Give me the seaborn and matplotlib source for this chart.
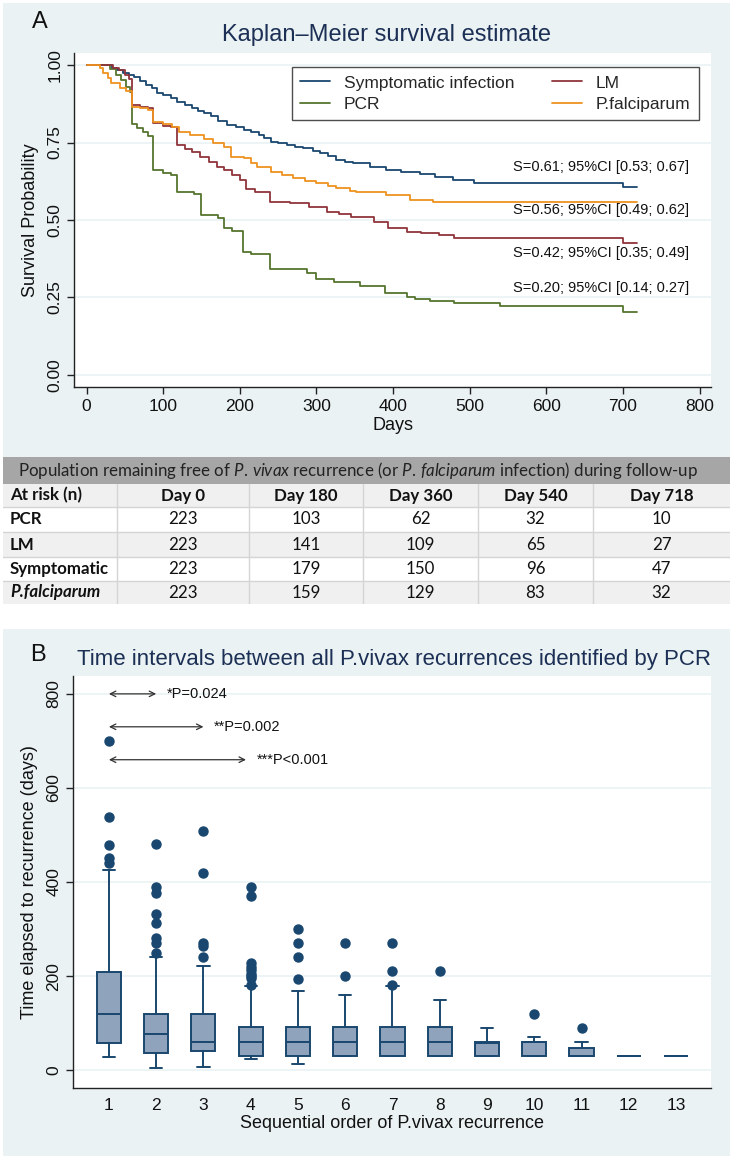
import numpy as np
import pandas as pd
import matplotlib
matplotlib.use('Agg')
import matplotlib.pyplot as plt
from matplotlib.patches import Rectangle
from matplotlib.lines import Line2D
import seaborn as sns

# ---- Panel A: Kaplan-Meier step curves (day, survival)
sympt_days = [0, 33, 40, 48, 55, 62, 70, 78, 85, 92, 100, 110, 118, 128, 138, 145, 153, 162, 172, 183,
              195, 205, 214, 225, 232, 240, 250, 261, 272, 283, 295, 305, 315, 326, 337, 348, 370, 391,
              410, 435, 455, 478, 506, 700, 719]
sympt_surv = [1.0, 0.99, 0.984, 0.976, 0.968, 0.96, 0.948, 0.935, 0.925, 0.909, 0.905, 0.895, 0.882, 0.872,
              0.862, 0.852, 0.844, 0.835, 0.82, 0.806, 0.8, 0.79, 0.785, 0.775, 0.765, 0.753, 0.748, 0.742,
              0.737, 0.731, 0.722, 0.715, 0.705, 0.694, 0.688, 0.683, 0.672, 0.661, 0.655, 0.65, 0.64, 0.629,
              0.62, 0.607, 0.607]

pcr_days = [0, 30, 38, 45, 52, 57, 59, 66, 74, 80, 87, 100, 110, 118, 140, 149, 172, 179, 190, 204, 215,
            239, 288, 300, 323, 357, 389, 418, 428, 448, 479, 539, 700, 719]
pcr_surv = [1.0, 0.987, 0.969, 0.951, 0.928, 0.914, 0.81, 0.798, 0.785, 0.771, 0.66, 0.652, 0.645, 0.591,
            0.583, 0.516, 0.507, 0.475, 0.466, 0.398, 0.39, 0.343, 0.33, 0.31, 0.30, 0.287, 0.263, 0.253,
            0.245, 0.239, 0.233, 0.224, 0.204, 0.204]

lm_days = [0, 35, 42, 50, 55, 59, 70, 80, 87, 100, 110, 118, 128, 138, 148, 160, 170, 179, 190, 200, 208,
           220, 239, 265, 290, 314, 330, 345, 375, 393, 418, 436, 460, 479, 700, 719]
lm_surv = [1.0, 0.99, 0.984, 0.968, 0.955, 0.871, 0.866, 0.86, 0.812, 0.805, 0.8, 0.742, 0.73, 0.718, 0.704,
           0.686, 0.672, 0.661, 0.645, 0.629, 0.6, 0.59, 0.557, 0.554, 0.543, 0.527, 0.52, 0.511, 0.495,
           0.473, 0.462, 0.457, 0.452, 0.441, 0.427, 0.427]

pf_days = [0, 18, 22, 28, 32, 44, 52, 59, 70, 80, 87, 100, 112, 120, 135, 153, 165, 179, 188, 205, 215,
           222, 240, 255, 270, 285, 300, 315, 326, 344, 352, 391, 422, 452, 719]
pf_surv = [1.0, 0.99, 0.975, 0.958, 0.941, 0.925, 0.915, 0.866, 0.86, 0.855, 0.817, 0.81, 0.801, 0.785,
           0.775, 0.763, 0.75, 0.737, 0.704, 0.699, 0.685, 0.672, 0.656, 0.645, 0.634, 0.626, 0.618, 0.61,
           0.604, 0.595, 0.591, 0.581, 0.565, 0.557, 0.557]

group_names = ['Symptomatic infection', 'PCR', 'LM', 'P.falciparum']
group_colors = ['#1a476f', '#55752f', '#90353b', '#ee9220']

end_labels = ['S=0.61; 95%CI [0.53; 0.67]', 'S=0.56; 95%CI [0.49; 0.62]',
              'S=0.42; 95%CI [0.35; 0.49]', 'S=0.20; 95%CI [0.14; 0.27]']
end_label_y = [0.672, 0.532, 0.395, 0.28]

# ---- At-risk table
risk_header = ('Population remaining free of $\\it{P.\\,vivax}$ recurrence (or $\\it{P.\\,falciparum}$ '
               'infection) during follow-up')
risk_cols = ['At risk (n)', 'Day 0', 'Day 180', 'Day 360', 'Day 540', 'Day 718']
risk_rows = ['PCR', 'LM', 'Symptomatic', 'P.falciparum']
risk_pcr = [223, 103, 62, 32, 10]
risk_lm = [223, 141, 109, 65, 27]
risk_sympt = [223, 179, 150, 96, 47]
risk_pf = [223, 159, 129, 83, 32]

# ---- Panel B: box plot summaries per recurrence order
order_labels = [str(i) for i in range(1, 14)]
box_q1 = [58, 37, 40, 30, 30, 30, 30, 30, 30, 30, 30, 30, 30]
box_med = [120, 76, 60, 60, 60, 60, 60, 60, 57, 60, 30, 30, 30]
box_q3 = [208, 120, 120, 91, 91, 91, 91, 91, 60, 60, 46, 30, 30]
box_lo = [28, 4, 6, 24, 12, 30, 30, 30, 30, 30, 30, 30, 30]
box_hi = [425, 240, 222, 179, 169, 160, 179, 150, 90, 71, 60, 30, 30]
box_fliers = [[440, 450, 478, 538, 700],
              [248, 270, 280, 312, 331, 376, 390, 480],
              [240, 264, 270, 419, 509],
              [180, 195, 200, 205, 212, 220, 227, 370, 390],
              [194, 240, 270, 300],
              [200, 270],
              [180, 210, 270],
              [210],
              [],
              [120],
              [90],
              [],
              []]

sig_labels = ['*P=0.024', '**P=0.002', '***P<0.001']
sig_to = [1, 2, 2.9]
sig_y = [800, 730, 660]

# ---- style
sns.set_style('ticks')
narrow = ['Liberation Sans', 'DejaVu Sans']
plt.rcParams['font.family'] = narrow
plt.rcParams['mathtext.fontset'] = 'custom'
plt.rcParams['mathtext.rm'] = 'Lato'
plt.rcParams['mathtext.it'] = 'Lato:italic'

W, H = 733, 1160
bg = '#eaf2f3'
navy_text = '#1c2f55'


def fx(px):
    return px / W


def fy(py):
    return 1 - py / H


fig = plt.figure(figsize=(W / 100, H / 100), dpi=100)
fig.patch.set_facecolor('white')
fig.patches.append(Rectangle((fx(3), fy(457)), fx(727), 454 / H, transform=fig.transFigure,
                             facecolor=bg, edgecolor='none', zorder=-5))
fig.patches.append(Rectangle((fx(3), fy(1156)), fx(727), 527 / H, transform=fig.transFigure,
                             facecolor=bg, edgecolor='none', zorder=-5))

# ================= Panel A =================
ax = fig.add_axes([fx(74), fy(387), fx(711 - 74), (387 - 53) / H])
ax.set_facecolor('white')

frames = []
for name, d, s in zip(group_names, [sympt_days, pcr_days, lm_days, pf_days],
                      [sympt_surv, pcr_surv, lm_surv, pf_surv]):
    frames.append(pd.DataFrame({'days': d, 'surv': s, 'group': name}))
km = pd.concat(frames, ignore_index=True)

sns.lineplot(data=km, x='days', y='surv', hue='group', hue_order=group_names,
             palette=group_colors, drawstyle='steps-post', estimator=None, lw=1.3,
             legend=False, ax=ax)

ax.set_xlim(-16.5, 815)
ax.set_ylim(-0.039, 1.039)
ax.set_xticks(range(0, 801, 100))
ax.set_yticks([0, 0.25, 0.5, 0.75, 1.0])
ax.set_yticklabels(['0.00', '0.25', '0.50', '0.75', '1.00'])
ax.grid(axis='y', color=bg, lw=1.2)
ax.set_axisbelow(True)
for sp in ['top', 'right']:
    ax.spines[sp].set_visible(False)
for sp in ['left', 'bottom']:
    ax.spines[sp].set_color('#222222')
    ax.spines[sp].set_linewidth(1.0)
ax.tick_params(axis='both', length=5, width=1, color='#222222', labelsize=12.5, labelcolor='#111111')
plt.setp(ax.get_yticklabels(), rotation=90, va='center')
ax.set_xlabel('Days', fontsize=13, color='#111111', labelpad=2)
ax.set_ylabel('Survival Probability', fontsize=13, color='#111111', labelpad=6)

handles = [Line2D([], [], color=c, lw=1.3) for c in group_colors]
leg = ax.legend(handles, group_names, ncol=2, loc='upper right', bbox_to_anchor=(0.995, 0.985),
                fontsize=12.5, frameon=True, fancybox=False, edgecolor='#222222',
                handlelength=1.7, columnspacing=2.2, borderpad=0.5, labelspacing=0.35)
leg.get_frame().set_linewidth(1.0)

for lab, yy in zip(end_labels, end_label_y):
    ax.text(786, yy, lab, ha='right', va='center', fontsize=10.5, color='#111111')

fig.text(fx(40), fy(22), 'A', fontsize=17, ha='center', va='center', color='#111111')
fig.text(fx(386), fy(35), 'Kaplan\u2013Meier survival estimate', fontsize=17, ha='center',
         va='center', color=navy_text)

# ================= Table =================
tx = fig.add_axes([fx(3), fy(604), fx(727), (604 - 457) / H])
tx.set_xlim(3, 730)
tx.set_ylim(604, 457)
tx.axis('off')
row_edges = [457, 484, 507, 532, 557, 581, 604]
col_edges = [3, 117, 249, 363, 478, 593, 730]
tx.add_patch(Rectangle((3, 457), 727, 27, facecolor='#a6a6a6', edgecolor='none'))
for i in range(1, len(row_edges) - 1):
    fc = '#f0f0f0' if i % 2 == 1 else '#ffffff'
    tx.add_patch(Rectangle((3, row_edges[i]), 727, row_edges[i + 1] - row_edges[i],
                           facecolor=fc, edgecolor='none'))
for y in row_edges[2:-1]:
    tx.plot([3, 730], [y, y], color='#d4d4d4', lw=1)
for x in col_edges[1:-1]:
    tx.plot([x, x], [484, 604], color='#d4d4d4', lw=1)
tfont = 'Lato'
tfs = 12.2
tx.text(358, 470.5, risk_header, ha='center', va='center', fontsize=tfs, family=tfont, color='#222222')
ymid = [(row_edges[i] + row_edges[i + 1]) / 2 for i in range(1, len(row_edges) - 1)]
for j, c in enumerate(risk_cols):
    if j == 0:
        tx.text(10, ymid[0], c, ha='left', va='center', fontsize=tfs, family=tfont,
                fontweight='bold', color='#111111')
    else:
        tx.text((col_edges[j] + col_edges[j + 1]) / 2, ymid[0], c, ha='center', va='center',
                fontsize=tfs, family=tfont, fontweight='bold', color='#111111')
for i, (rname, vals) in enumerate(zip(risk_rows, [risk_pcr, risk_lm, risk_sympt, risk_pf])):
    style = 'italic' if rname == 'P.falciparum' else 'normal'
    tx.text(10, ymid[i + 1], rname, ha='left', va='center', fontsize=tfs, family=tfont,
            fontweight='bold', fontstyle=style, color='#111111')
    for j, v in enumerate(vals):
        tx.text((col_edges[j + 1] + col_edges[j + 2]) / 2, ymid[i + 1], str(v), ha='center',
                va='center', fontsize=tfs, family=tfont, color='#111111')

# ================= Panel B =================
bx = fig.add_axes([fx(73), fy(1088), fx(711 - 73), (1088 - 676) / H])
bx.set_facecolor('white')
stats = []
for i in range(len(order_labels)):
    stats.append(dict(med=box_med[i], q1=box_q1[i], q3=box_q3[i], whislo=box_lo[i],
                      whishi=box_hi[i], fliers=box_fliers[i], label=order_labels[i]))
edge = '#1a476f'
bx.bxp(stats, positions=range(len(order_labels)), widths=0.51, capwidths=0.26, patch_artist=True,
       boxprops=dict(facecolor='#8fa3bc', edgecolor=edge, lw=1.4),
       medianprops=dict(color=edge, lw=1.4),
       whiskerprops=dict(color=edge, lw=1.4),
       capprops=dict(color=edge, lw=1.4),
       flierprops=dict(marker='o', markerfacecolor=edge, markeredgecolor=edge, markersize=6.5))
bx.set_xlim(-0.76, 12.74)
bx.set_ylim(-38, 838)
bx.set_yticks([0, 200, 400, 600, 800])
bx.grid(axis='y', color=bg, lw=1.2)
bx.set_axisbelow(True)
for sp in ['top', 'right']:
    bx.spines[sp].set_visible(False)
for sp in ['left', 'bottom']:
    bx.spines[sp].set_color('#222222')
    bx.spines[sp].set_linewidth(1.0)
bx.tick_params(axis='y', length=5, width=1, color='#222222', labelsize=12.5, labelcolor='#111111')
bx.tick_params(axis='x', length=0, labelsize=12.5, labelcolor='#111111', pad=7)
plt.setp(bx.get_yticklabels(), rotation=90, va='center')
bx.set_xlabel('Sequential order of P.vivax recurrence', fontsize=13, color='#111111', labelpad=2)
bx.set_ylabel('Time elapsed to recurrence (days)', fontsize=13, color='#111111', labelpad=6)

for lab, x1, yy in zip(sig_labels, sig_to, sig_y):
    bx.annotate('', xy=(x1, yy), xytext=(0, yy),
                arrowprops=dict(arrowstyle='<->', color='#333333', lw=0.9, shrinkA=0, shrinkB=0))
    bx.text(x1 + 0.22, yy, lab, ha='left', va='center', fontsize=10.5, color='#111111')

fig.text(fx(38), fy(655), 'B', fontsize=17, ha='center', va='center', color='#111111')
fig.text(fx(394), fy(659), 'Time intervals between all P.vivax recurrences identified by PCR',
         fontsize=16, ha='center', va='center', color=navy_text)

fig.savefig('out.png', dpi=100)
